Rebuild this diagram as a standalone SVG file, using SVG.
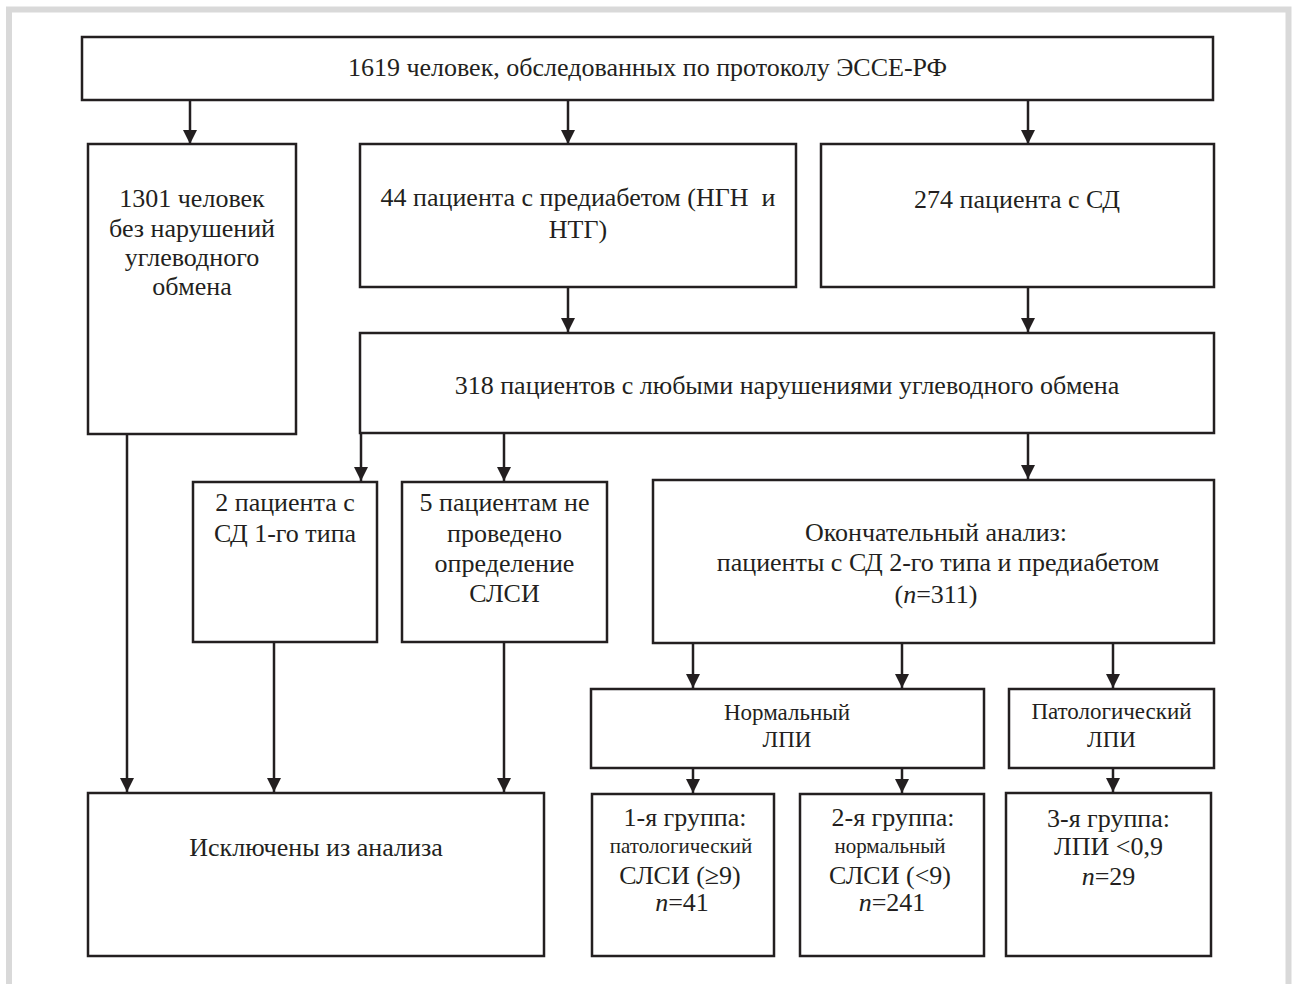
<svg xmlns="http://www.w3.org/2000/svg" width="1293" height="984" viewBox="0 0 1293 984">
<defs>
<marker id="ah" markerUnits="userSpaceOnUse" markerWidth="14" markerHeight="14" refX="14" refY="7" orient="auto">
<path d="M0,0 L14,7 L0,14 z" fill="#231f20"/>
</marker>
<style>
.box{fill:#fff;stroke:#231f20;stroke-width:2.5}
.t{font-family:"Liberation Serif","Times New Roman",serif;font-size:26px;fill:#231f20;text-anchor:middle}
.s{font-size:21px}
.m{font-size:23px}
.c{fill:none;stroke:#231f20;stroke-width:2.5;marker-end:url(#ah)}
</style>
</defs>
<rect width="1293" height="984" fill="#fff"/>
<path d="M9,984 V9.5 H1288.5 V984" fill="none" stroke="#d9d9d9" stroke-width="6"/>

<g id="connectors">
<line class="c" x1="190" y1="100" x2="190" y2="144"/>
<line class="c" x1="568" y1="100" x2="568" y2="144"/>
<line class="c" x1="1028" y1="100" x2="1028" y2="144"/>
<line class="c" x1="568" y1="287" x2="568" y2="332"/>
<line class="c" x1="1028" y1="287" x2="1028" y2="332"/>
<line class="c" x1="361" y1="433" x2="361" y2="481"/>
<line class="c" x1="504" y1="433" x2="504" y2="481"/>
<line class="c" x1="1028" y1="433" x2="1028" y2="479"/>
<line class="c" x1="127" y1="434" x2="127" y2="792"/>
<line class="c" x1="274" y1="642" x2="274" y2="792"/>
<line class="c" x1="504" y1="642" x2="504" y2="792"/>
<line class="c" x1="693" y1="643" x2="693" y2="688"/>
<line class="c" x1="902" y1="643" x2="902" y2="688"/>
<line class="c" x1="1113" y1="643" x2="1113" y2="688"/>
<line class="c" x1="693" y1="768" x2="693" y2="793"/>
<line class="c" x1="902" y1="768" x2="902" y2="793"/>
<line class="c" x1="1113" y1="768" x2="1113" y2="792"/>
</g>

<g id="n-top">
<rect class="box" x="82" y="37" width="1131" height="63"/>
<text class="t" x="647.5" y="76">1619 человек, обследованных по протоколу ЭССЕ-РФ</text>
</g>
<g id="n-1301">
<rect class="box" x="88" y="144" width="208" height="290"/>
<text class="t" x="192" y="207">1301 человек</text>
<text class="t" x="192" y="237">без нарушений</text>
<text class="t" x="192" y="266">углеводного</text>
<text class="t" x="192" y="295">обмена</text>
</g>
<g id="n-44">
<rect class="box" x="360" y="144" width="436" height="143"/>
<text class="t" x="578" y="206" xml:space="preserve">44 пациента с предиабетом (НГН  и</text>
<text class="t" x="578" y="238">НТГ)</text>
</g>
<g id="n-274">
<rect class="box" x="821" y="144" width="393" height="143"/>
<text class="t" x="1017" y="208">274 пациента с СД</text>
</g>
<g id="n-318">
<rect class="box" x="360" y="333" width="854" height="100"/>
<text class="t" x="787" y="394">318 пациентов с любыми нарушениями углеводного обмена</text>
</g>
<g id="n-sd1">
<rect class="box" x="193" y="482" width="184" height="160"/>
<text class="t" x="285" y="511">2 пациента с</text>
<text class="t" x="285" y="542">СД 1-го типа</text>
</g>
<g id="n-5">
<rect class="box" x="402" y="482" width="205" height="160"/>
<text class="t" x="504.5" y="511">5 пациентам не</text>
<text class="t" x="504.5" y="542">проведено</text>
<text class="t" x="504.5" y="572">определение</text>
<text class="t" x="504.5" y="602">СЛСИ</text>
</g>
<g id="n-final">
<rect class="box" x="653" y="480" width="561" height="163"/>
<text class="t" x="936" y="541">Окончательный анализ:</text>
<text class="t" x="938" y="571">пациенты с СД 2-го типа и предиабетом</text>
<text class="t" x="936" y="603">(<tspan font-style="italic">n</tspan>=311)</text>
</g>
<g id="n-excl">
<rect class="box" x="88" y="793" width="456" height="163"/>
<text class="t" x="316" y="856">Исключены из анализа</text>
</g>
<g id="n-norm">
<rect class="box" x="591" y="689" width="393" height="79"/>
<text class="t m" x="787" y="720">Нормальный</text>
<text class="t m" x="787" y="747">ЛПИ</text>
</g>
<g id="n-pat">
<rect class="box" x="1009" y="689" width="205" height="79"/>
<text class="t m" x="1111.5" y="719">Патологический</text>
<text class="t m" x="1111.5" y="747">ЛПИ</text>
</g>
<g id="n-g1">
<rect class="box" x="592" y="794" width="182" height="162"/>
<text class="t" x="685" y="826">1-я группа:</text>
<text class="t s" x="681" y="853">патологический</text>
<text class="t" x="680" y="884">СЛСИ (≥9)</text>
<text class="t" x="682" y="911"><tspan font-style="italic">n</tspan>=41</text>
</g>
<g id="n-g2">
<rect class="box" x="800" y="794" width="184" height="162"/>
<text class="t" x="893" y="826">2-я группа:</text>
<text class="t s" x="890" y="853">нормальный</text>
<text class="t" x="890" y="884">СЛСИ (&lt;9)</text>
<text class="t" x="892" y="911"><tspan font-style="italic">n</tspan>=241</text>
</g>
<g id="n-g3">
<rect class="box" x="1006" y="793" width="205" height="163"/>
<text class="t" x="1108.5" y="827">3-я группа:</text>
<text class="t" x="1108.5" y="855">ЛПИ &lt;0,9</text>
<text class="t" x="1108.5" y="885"><tspan font-style="italic">n</tspan>=29</text>
</g>
</svg>
